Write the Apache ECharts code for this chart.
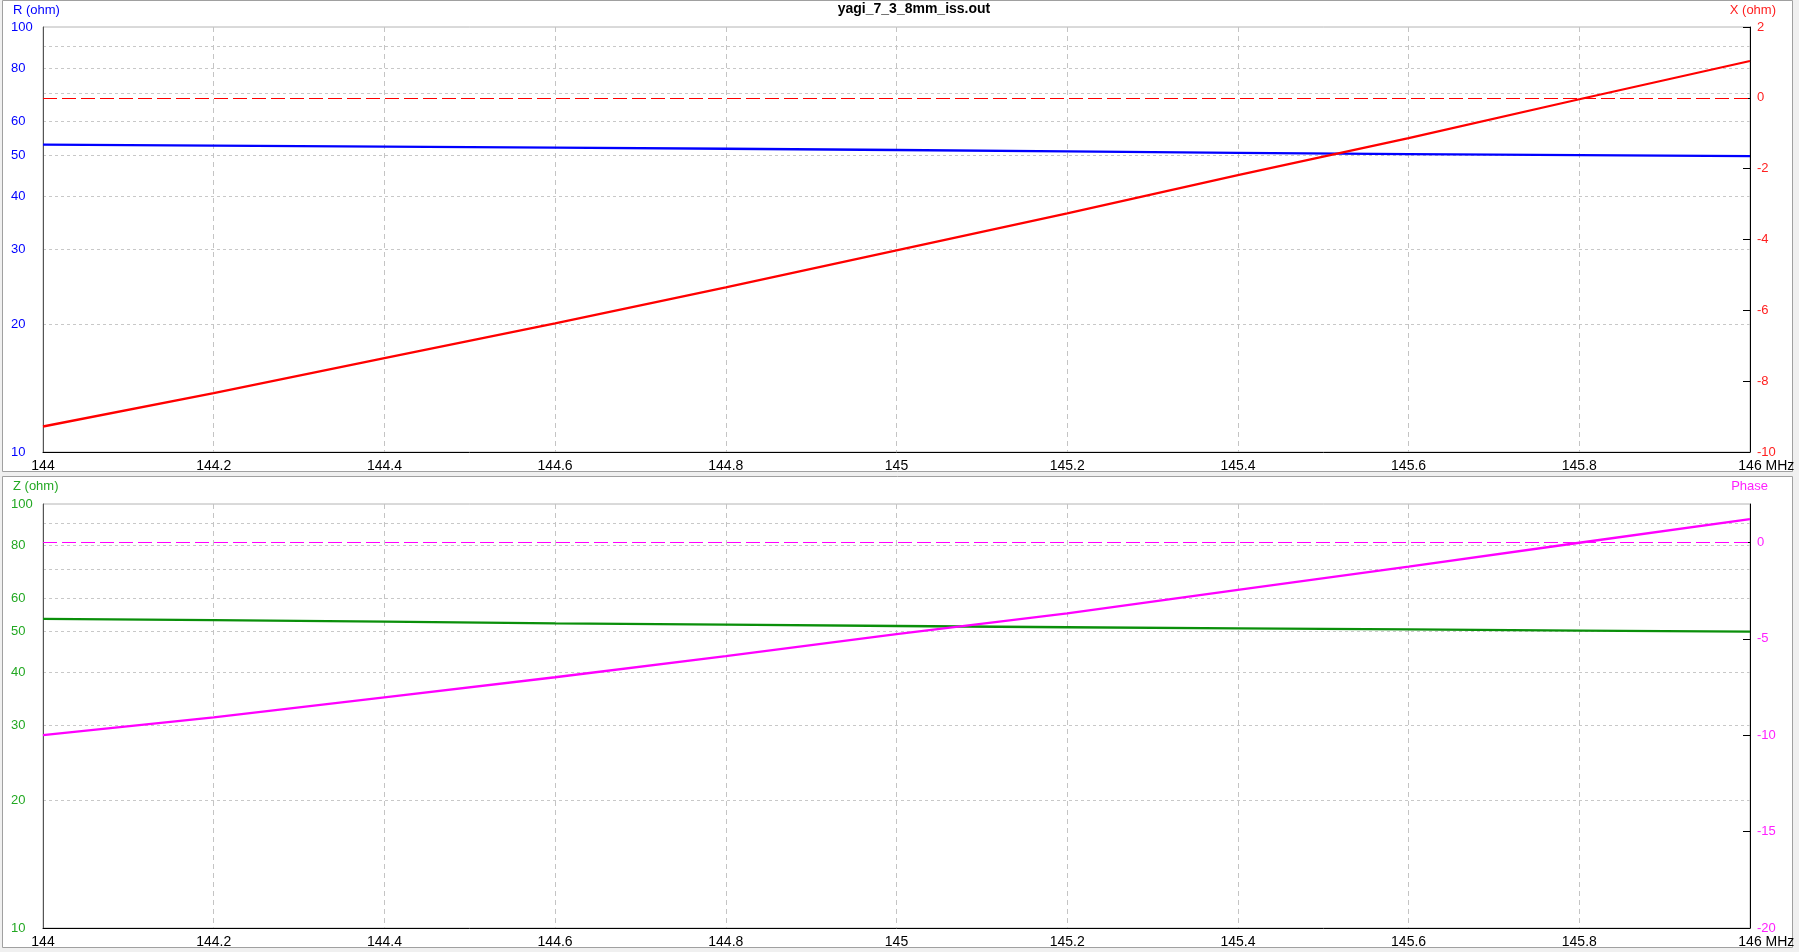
<!DOCTYPE html>
<html>
<head>
    <meta charset="utf-8">
    <title>yagi_7_3_8mm_iss.out</title>
    <script src="https://cdn.jsdelivr.net/npm/echarts@6.0.0/dist/echarts.min.js"></script>
    <style>
        html, body {margin: 0; padding: 0; background: #f0f0f0;}
    </style>
</head>
<body>
<div id="main" style="width: 1799px;height:952px;"></div>
<script type="text/javascript">
    // frequency points, MHz
    var freq = [144, 144.2, 144.4, 144.6, 144.8, 145, 145.2, 145.4, 145.6, 145.8, 146];
    // upper panel: resistance (log scale) and reactance
    var rOhm = [52.9, 52.6, 52.3, 52.0, 51.7, 51.35, 50.95, 50.55, 50.2, 49.95, 49.7];
    var xOhm = [-9.28, -8.34, -7.35, -6.37, -5.35, -4.31, -3.26, -2.18, -1.14, -0.04, 1.04];
    // lower panel: impedance magnitude (log scale) and phase
    var zOhm = [53.6, 53.2, 52.8, 52.3, 51.95, 51.55, 51.2, 50.9, 50.6, 50.3, 50.0];
    var phase = [-9.99, -9.07, -8.03, -6.99, -5.89, -4.75, -3.67, -2.46, -1.25, -0.01, 1.22];

    // tick labels
    var logLabels = [10, 20, 30, 40, 50, 60, 80, 100];
    var logGrid = [20, 30, 40, 50, 60, 70, 80, 90];

    function pairs(vals) {
        var out = [];
        for (var i = 0; i < freq.length; i++) {
            out.push([freq[i], vals[i]]);
        }
        return out;
    }

    var font = 'Liberation Sans, Arial, sans-serif';

    function freqAxis(idx) {
        return {
            type: 'value',
            gridIndex: idx,
            min: 144,
            max: 146,
            interval: 0.2,
            name: 'MHz',
            nameLocation: 'end',
            nameGap: 5,
            nameTextStyle: {
                color: '#000', fontSize: 14, fontFamily: font,
                verticalAlign: 'top', align: 'left', padding: [7, 0, 0, 10]
            },
            axisLine: {onZero: false, lineStyle: {color: '#000', width: 1}},
            axisTick: {show: false},
            axisLabel: {
                color: '#000',
                fontSize: 14,
                fontFamily: font,
                margin: 7,
                formatter: function (v) {
                    return v.toFixed(1).replace(/\.0$/, '');
                }
            },
            splitLine: {
                show: true,
                lineStyle: {color: '#c4c4c4', type: [5, 4], width: 1}
            }
        };
    }

    function logAxis(idx, color) {
        return {
            type: 'log',
            logBase: 10,
            gridIndex: idx,
            position: 'left',
            min: 10,
            max: 100,
            axisLine: {show: true, onZero: false, lineStyle: {color: '#555', width: 1}},
            axisTick: {show: false, customValues: logGrid},
            axisLabel: {
                customValues: logLabels,
                color: color,
                fontSize: 13,
                fontFamily: font,
                align: 'left',
                margin: 32,
                padding: [0, 0, 4, 0]
            },
            splitLine: {
                show: true,
                lineStyle: {color: '#c8c8c8', type: [3, 3], width: 1}
            }
        };
    }

    function rightAxis(idx, min, max, step, color, hideMax) {
        return {
            type: 'value',
            gridIndex: idx,
            position: 'right',
            min: min,
            max: max,
            interval: step,
            axisLine: {show: true, onZero: false, lineStyle: {color: '#000', width: 1}},
            axisTick: {show: true, inside: true, length: 7, lineStyle: {color: '#000'}},
            axisLabel: {
                color: color,
                fontSize: 13,
                fontFamily: font,
                align: 'left',
                margin: 7,
                padding: [0, 0, 4, 0],
                showMaxLabel: !hideMax
            },
            splitLine: {show: false}
        };
    }

    function zeroLine(color) {
        return {
            silent: true,
            symbol: ['none', 'none'],
            label: {show: false},
            lineStyle: {color: color, type: [14, 5], width: 1},
            data: [{yAxis: 0}]
        };
    }

    var myChart = echarts.init(document.getElementById('main'));

    var option = {
        animation: false,
        backgroundColor: '#f0f0f0',
        textStyle: {fontFamily: font},
        graphic: [
            {type: 'rect', z: -10, shape: {x: 2.5, y: 0.5, width: 1790, height: 471},
                style: {fill: '#fff', stroke: '#a0a0a0', lineWidth: 1}},
            {type: 'rect', z: -10, shape: {x: 2.5, y: 476.5, width: 1790, height: 471},
                style: {fill: '#fff', stroke: '#a0a0a0', lineWidth: 1}}
        ],
        title: [
            {text: 'yagi_7_3_8mm_iss.out', left: 914, top: 2, padding: 0, textAlign: 'center',
                textStyle: {fontSize: 14, fontWeight: 'bold', color: '#000', fontFamily: font}},
            {text: 'R (ohm)', left: 13, top: 4, padding: 0,
                textStyle: {fontSize: 13, fontWeight: 'normal', color: '#0000ff', fontFamily: font}},
            {text: 'X (ohm)', right: 23, top: 4, padding: 0,
                textStyle: {fontSize: 13, fontWeight: 'normal', color: '#ff2020', fontFamily: font}},
            {text: 'Z (ohm)', left: 13, top: 480, padding: 0,
                textStyle: {fontSize: 13, fontWeight: 'normal', color: '#22a822', fontFamily: font}},
            {text: 'Phase', right: 31, top: 480, padding: 0,
                textStyle: {fontSize: 13, fontWeight: 'normal', color: '#ff20ff', fontFamily: font}}
        ],
        grid: [
            {left: 43, top: 27, width: 1707, height: 425, show: true,
                borderColor: '#b4b4b4', borderWidth: 1, backgroundColor: 'transparent'},
            {left: 43, top: 504, width: 1707, height: 424, show: true,
                borderColor: '#b4b4b4', borderWidth: 1, backgroundColor: 'transparent'}
        ],
        xAxis: [freqAxis(0), freqAxis(1)],
        yAxis: [
            logAxis(0, '#0000ff'),
            rightAxis(0, -10, 2, 2, '#ff2020', false),
            logAxis(1, '#22a822'),
            rightAxis(1, -20, 2, 5, '#ff20ff', true)
        ],
        series: [
            {
                name: 'R (ohm)', type: 'line', xAxisIndex: 0, yAxisIndex: 0,
                data: pairs(rOhm), showSymbol: false, silent: true,
                lineStyle: {color: '#0000ff', width: 2.3}, itemStyle: {color: '#0000ff'}
            },
            {
                name: 'X (ohm)', type: 'line', xAxisIndex: 0, yAxisIndex: 1,
                data: pairs(xOhm), showSymbol: false, silent: true,
                lineStyle: {color: '#ff0000', width: 2.3}, itemStyle: {color: '#ff0000'},
                markLine: zeroLine('#ff0000')
            },
            {
                name: 'Z (ohm)', type: 'line', xAxisIndex: 1, yAxisIndex: 2,
                data: pairs(zOhm), showSymbol: false, silent: true,
                lineStyle: {color: '#0a8f0a', width: 2.3}, itemStyle: {color: '#0a8f0a'}
            },
            {
                name: 'Phase', type: 'line', xAxisIndex: 1, yAxisIndex: 3,
                data: pairs(phase), showSymbol: false, silent: true,
                lineStyle: {color: '#ff00ff', width: 2.3}, itemStyle: {color: '#ff00ff'},
                markLine: zeroLine('#ff00ff')
            }
        ]
    };

    myChart.setOption(option);
</script>
</body>
</html>
